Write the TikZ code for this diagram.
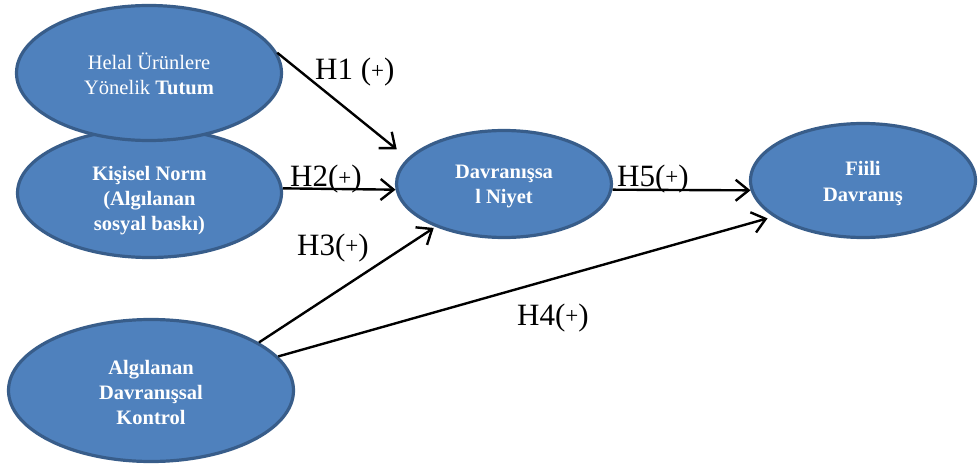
\documentclass[tikz,border=0pt]{standalone}
\usepackage{fontspec}
\setmainfont{Liberation Serif}
\usetikzlibrary{arrows.meta,shapes.geometric}
\definecolor{fillblue}{RGB}{79,129,189}
\definecolor{edgeblue}{RGB}{56,93,138}
\newcommand\smallplus{\raisebox{1.5pt}{\fontsize{23}{23}\selectfont +}}
\begin{document}
\begin{tikzpicture}[x=1pt,y=-1pt,
  oval/.style={ellipse, draw=edgeblue, fill=fillblue, line width=3.2pt, inner sep=0pt},
  ovaltext/.style={text=white, align=center, inner sep=0pt, font=\fontsize{20.5}{25}\selectfont},
  link/.style={line width=2.4pt, -{Straight Barb[length=13pt,width=21pt]}},
  hyp/.style={anchor=base west, inner sep=0pt, font=\fontsize{31}{31}\selectfont}]
\useasboundingbox (0,0) rectangle (978,468);
\node[oval, minimum width=264pt, minimum height=129pt] (kis) at (149.5,193) {};
\node[ovaltext] (kistext) at (149.5,201)
  {\textbf{Kişisel Norm}\\\textbf{(Algılanan}\\\textbf{sosyal baskı)}};
\node[oval, minimum width=265pt, minimum height=135pt] (helal) at (149,73) {};
\node[ovaltext] (helaltext) at (149,73.5) {Helal Ürünlere\\Yönelik \textbf{Tutum}};
\node[oval, minimum width=285pt, minimum height=142pt] (alg) at (151,390.5) {};
\node[ovaltext] (algtext) at (151,392.5)
  {\textbf{Algılanan}\\\textbf{Davranışsal}\\\textbf{Kontrol}};
\node[oval, minimum width=215pt, minimum height=107pt] (davr) at (504,184) {};
\node[ovaltext] (davrtext) at (504,187) {\textbf{Davranışsa}\\\textbf{l Niyet}};
\node[oval, minimum width=225pt, minimum height=114pt] (fiili) at (863,180.5) {};
\node[ovaltext] (fiilitext) at (863,183.5) {\textbf{Fiili}\\\textbf{Davranış}};
\draw[link, shorten >=14pt] (helal.9) -- (davr.165);
\draw[link] (kis.2) -- (davr.183);
\draw[link, shorten >=2pt] (alg.24) -- (davr.212);
\draw[link, shorten >=6pt] (alg.15) -- (fiili.202);
\draw[link] (davr.-3) -- (fiili.185);
\node[hyp] (h1) at (315,80) {H1 (\smallplus)};
\node[hyp] (h2) at (290,187) {H2(\smallplus)};
\node[hyp] (h3) at (297,255) {H3(\smallplus)};
\node[hyp] (h4) at (517,325) {H4(\smallplus)};
\node[hyp] (h5) at (617,186) {H5(\smallplus)};
\end{tikzpicture}
\end{document}
